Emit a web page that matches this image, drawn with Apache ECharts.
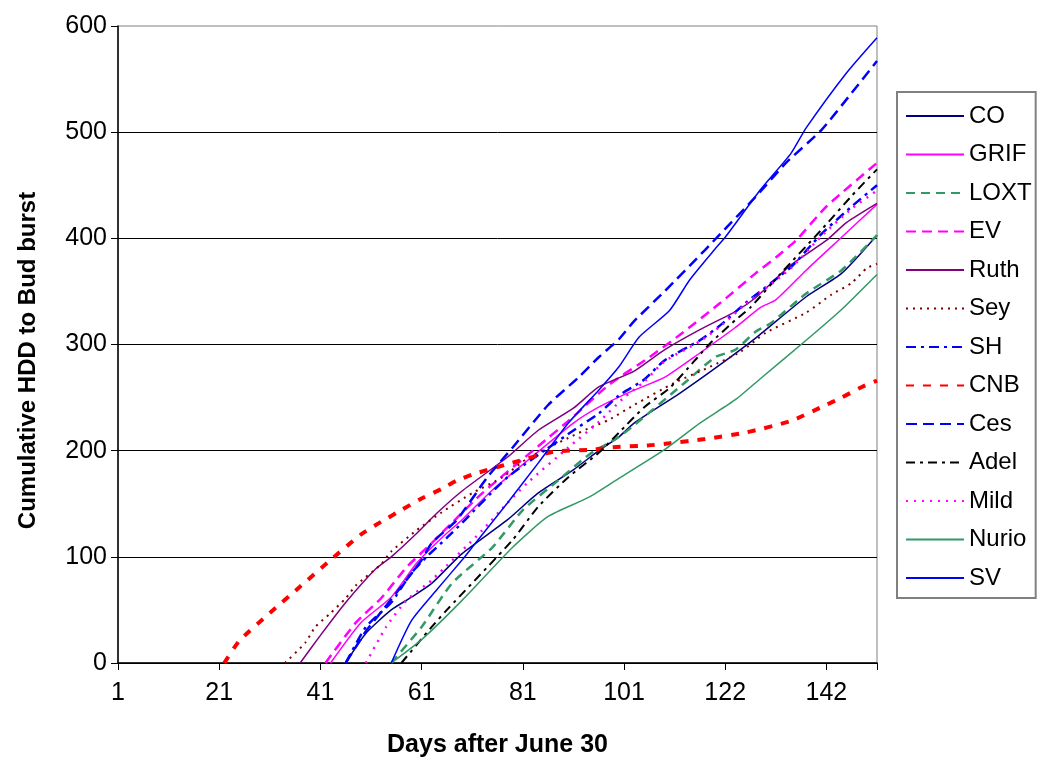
<!DOCTYPE html>
<html>
<head>
<meta charset="utf-8">
<script src="https://cdn.jsdelivr.net/npm/echarts@6/dist/echarts.min.js"></script>
<style>
  html, body { margin: 0; padding: 0; background: #fff; }
  #chart { width: 1037px; height: 758px; }
</style>
</head>
<body>
<div id="chart"></div>
<script>
// x tick labels (day numbers) shown every 20 points
const tickLabels = [1, 21, 41, 61, 81, 101, 122, 142]

// each series: point index along the day axis + cumulative HDD
const coDays = [45, 49, 54, 58, 62, 68, 77, 83, 90, 95, 99, 102, 111, 119, 126, 136, 143, 150]
const coHDD = [0, 28, 50, 62, 75, 103, 135, 160, 182, 200, 213, 226, 254, 281, 306, 345, 367, 403]

const grifDays = [42, 48, 54, 59, 64, 68, 74, 81, 90, 95, 102, 108, 115, 122, 127, 130, 136, 143, 150]
const grifHDD = [0, 38, 62, 94, 118, 135, 163, 191, 226, 241, 257, 269, 292, 316, 335, 342, 370, 401, 432]

const loxtDays = [54, 60, 66, 74, 80, 87, 93, 99, 102, 112, 118, 122, 126, 129, 136, 143, 150]
const loxtHDD = [0, 34, 75, 109, 144, 172, 196, 213, 224, 264, 288, 295, 312, 320, 348, 370, 403]

const evDays = [41, 47, 52, 57, 62, 66, 72, 83, 90, 97, 105, 111, 119, 126, 130, 134, 140, 150]
const evHDD = [0, 38, 61, 90, 113, 132, 160, 204, 232, 262, 288, 309, 339, 367, 382, 398, 430, 471]

const ruthDays = [36, 40, 45, 51, 54, 59, 63, 68, 77, 83, 90, 95, 102, 108, 115, 122, 126, 133, 140, 144, 150]
const ruthHDD = [0, 26, 57, 89, 100, 122, 141, 162, 194, 219, 240, 260, 275, 295, 314, 331, 344, 375, 398, 415, 433]

const seyDays = [33, 37, 39, 42, 45, 47, 52, 54, 59, 64, 70, 76, 81, 89, 93, 97, 102, 110, 117, 123, 128, 136, 141, 145, 148, 150]
const seyHDD = [0, 19, 34, 47, 61, 73, 93, 105, 125, 142, 160, 175, 193, 212, 221, 229, 243, 264, 279, 293, 311, 330, 347, 358, 372, 376]

const shDays = [45, 49, 54, 58, 61, 65, 68, 77, 90, 95, 99, 104, 108, 115, 119, 124, 133, 139, 145, 150]
const shHDD = [0, 34, 57, 85, 100, 118, 132, 175, 219, 235, 252, 267, 285, 304, 318, 339, 373, 404, 430, 450]

const cnbDays = [21, 24, 30, 36, 42, 48, 52, 56, 60, 64, 67, 71, 79, 86, 94, 97, 105, 109, 116, 124, 133, 139, 143, 147, 150]
const cnbHDD = [0, 21, 47, 72, 97, 121, 133, 144, 155, 164, 172, 179, 190, 199, 201, 203, 205, 207, 211, 217, 228, 241, 250, 260, 266]

const cesDays = [45, 49, 52, 56, 60, 62, 67, 73, 78, 85, 91, 95, 99, 102, 108, 116, 119, 126, 132, 139, 145, 150]
const cesHDD = [0, 30, 48, 72, 97, 113, 135, 175, 203, 243, 269, 288, 305, 322, 350, 389, 404, 439, 471, 502, 537, 567]

const adelDays = [56, 62, 65, 78, 83, 89, 95, 99, 104, 109, 114, 117, 122, 125, 131, 139, 145, 150]
const adelHDD = [0, 34, 50, 116, 147, 175, 198, 217, 241, 259, 285, 301, 323, 335, 367, 408, 440, 465]

const mildDays = [49, 53, 57, 62, 72, 77, 81, 89, 95, 100, 104, 108, 115, 119, 124, 133, 139, 145, 150]
const mildHDD = [0, 34, 59, 78, 125, 151, 170, 203, 227, 250, 265, 284, 303, 317, 338, 372, 402, 428, 445]

const nurioDays = [54, 60, 68, 78, 85, 93, 99, 108, 115, 122, 127, 136, 143, 150]
const nurioHDD = [0, 22, 59, 109, 138, 156, 174, 201, 226, 248, 268, 304, 333, 366]

const svDays = [54, 58, 63, 68, 70, 77, 83, 89, 95, 99, 103, 109, 113, 118, 120, 127, 133, 136, 144, 150]
const svHDD = [0, 40, 69, 97, 109, 151, 188, 226, 257, 279, 307, 332, 361, 390, 401, 446, 480, 504, 556, 589]

const FONT = "'Liberation Sans', Arial, sans-serif"

const zip = (xs, ys) => xs.map((x, i) => [x, ys[i]])

const makeLine = (name, days, hdd, color, width, dash) => ({
  name,
  type: 'line',
  data: zip(days, hdd),
  symbol: 'none',
  smooth: 0.2,
  lineStyle: { color, width, type: dash || 'solid' },
  itemStyle: { color },
  animation: false
})

const series = [
  makeLine('CO', coDays, coHDD, '#000080', 1.5),
  makeLine('GRIF', grifDays, grifHDD, '#FF00FF', 1.5),
  makeLine('LOXT', loxtDays, loxtHDD, '#339966', 2.5, [9, 6]),
  makeLine('EV', evDays, evHDD, '#FF00FF', 2.5, [10, 6]),
  makeLine('Ruth', ruthDays, ruthHDD, '#800080', 1.5),
  makeLine('Sey', seyDays, seyHDD, '#800000', 2, [2, 5]),
  makeLine('SH', shDays, shHDD, '#0000FF', 2.5, [10, 5, 3, 5]),
  makeLine('CNB', cnbDays, cnbHDD, '#FF0000', 4, [8, 9]),
  makeLine('Ces', cesDays, cesHDD, '#0000FF', 2.5, [11, 6]),
  makeLine('Adel', adelDays, adelHDD, '#000000', 2, [9, 5, 3, 5]),
  makeLine('Mild', mildDays, mildHDD, '#FF00FF', 2.5, [2, 6]),
  makeLine('Nurio', nurioDays, nurioHDD, '#339966', 1.5),
  makeLine('SV', svDays, svHDD, '#0000FF', 1.5)
]

const chart = echarts.init(document.getElementById('chart'))

chart.setOption({
  backgroundColor: '#fff',
  animation: false,
  grid: {
    left: 118, right: 160, top: 26, bottom: 95,
    outerBoundsMode: 'none',
    show: true,
    borderColor: '#808080',
    borderWidth: 1
  },
  legend: {
    orient: 'vertical',
    left: 897,
    top: 92,
    padding: [12, 4, 8, 8],
    itemWidth: 58,
    itemHeight: 14,
    itemGap: 14.5,
    borderColor: '#808080',
    borderWidth: 2,
    itemStyle: { opacity: 0 },
    textStyle: { fontSize: 24, lineHeight: 24, color: '#000', fontFamily: FONT },
    data: series.map(s => s.name)
  },
  xAxis: {
    type: 'value',
    min: 0,
    max: 150,
    interval: 20,
    name: 'Days after June 30',
    nameLocation: 'middle',
    nameGap: 70,
    nameTextStyle: { fontSize: 25, fontWeight: 'bold', color: '#000', fontFamily: FONT },
    axisLine: { lineStyle: { color: '#000', width: 1.5 } },
    axisTick: { show: true, length: 7, lineStyle: { color: '#000' } },
    axisLabel: {
      fontSize: 25,
      color: '#000',
      fontFamily: FONT,
      margin: 18,
      formatter: (v) => (v % 20 === 0 && tickLabels[v / 20] !== undefined) ? String(tickLabels[v / 20]) : ''
    },
    splitLine: { show: false }
  },
  yAxis: {
    type: 'value',
    min: 0,
    max: 600,
    interval: 100,
    name: 'Cumulative HDD to Bud burst',
    nameLocation: 'middle',
    nameGap: 78,
    nameTextStyle: { fontSize: 24, fontWeight: 'bold', color: '#000', fontFamily: FONT, padding: [0, 32, 0, 0] },
    axisLine: { show: true, lineStyle: { color: '#000', width: 1.5 } },
    axisTick: { show: true, length: 7, lineStyle: { color: '#000' } },
    axisLabel: { fontSize: 25, color: '#000', fontFamily: FONT, margin: 11 },
    splitLine: { show: true, showMaxLine: false, lineStyle: { color: '#000', width: 1 } }
  },
  series
})
</script>
</body>
</html>
